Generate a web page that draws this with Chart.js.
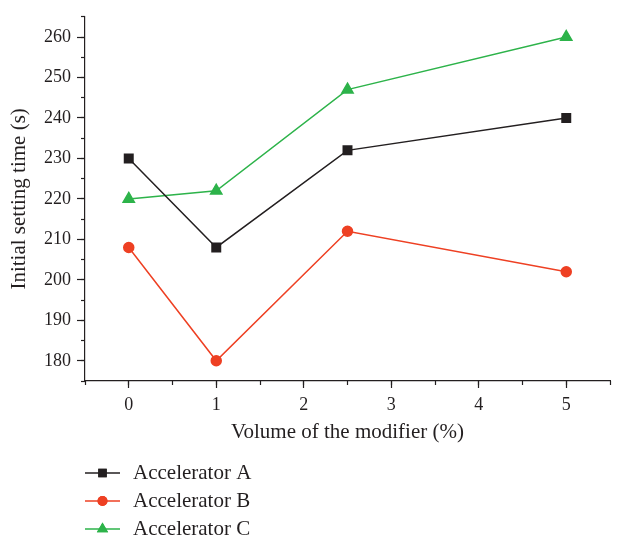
<!DOCTYPE html>
<html>
<head>
<meta charset="utf-8">
<script src="https://cdn.jsdelivr.net/npm/chart.js@4/dist/chart.umd.min.js"></script>
<style>
  html, body { margin: 0; padding: 0; background: #fff; }
  #wrap { width: 618px; height: 539px; }
</style>
</head>
<body>
<div id="wrap"><canvas id="chart1"></canvas></div>
<script>
// Veriler
const modifierVolume = [0, 1, 2.5, 5];
const accelA = [230, 208, 232, 240];
const accelB = [208, 180, 212, 202];
const accelC = [220, 222, 247, 260];
const seriesNames = ['Accelerator A', 'Accelerator B', 'Accelerator C'];
const xTickValues = [0, 1, 2, 3, 4, 5];
const yTickValues = [180, 190, 200, 210, 220, 230, 240, 250, 260];

const FONT = "'Liberation Serif', 'DejaVu Serif', serif";
const INK = '#231f20';

function pts(ys) {
    return modifierVolume.map((x, i) => ({ x: x, y: ys[i] }));
}

// Alt kısımdaki dikey gösterge
const bottomLegend = {
    id: 'bottomLegend',
    afterDraw(chart) {
        const ctx = chart.ctx;
        ctx.save();
        chart.data.datasets.forEach((ds, i) => {
            const y = 473 + i * 28;
            ctx.strokeStyle = ds.borderColor;
            ctx.lineWidth = 1.5;
            ctx.beginPath();
            ctx.moveTo(85, y);
            ctx.lineTo(120, y);
            ctx.stroke();
            ctx.fillStyle = ds.backgroundColor;
            Chart.helpers.drawPoint(ctx, {
                pointStyle: ds.pointStyle, radius: ds.pointRadius, borderWidth: 0, rotation: 0
            }, 102.5, y);
            ctx.fill();
            ctx.fillStyle = INK;
            ctx.font = "21px " + FONT;
            ctx.textBaseline = 'middle';
            ctx.fillText(ds.label, 133, y);
        });
        ctx.restore();
    }
};

const ctx = document.getElementById('chart1').getContext('2d');
const myChart = new Chart(ctx, {
    type: 'line',
    data: {
        datasets: [{
            label: seriesNames[0],
            data: pts(accelA),
            borderColor: INK,
            backgroundColor: INK,
            pointStyle: 'rect',
            pointRadius: 6,
            borderWidth: 1.5
        }, {
            label: seriesNames[1],
            data: pts(accelB),
            borderColor: '#ee4023',
            backgroundColor: '#ee4023',
            pointStyle: 'circle',
            pointRadius: 5,
            borderWidth: 1.5
        }, {
            label: seriesNames[2],
            data: pts(accelC),
            borderColor: '#2db34a',
            backgroundColor: '#2db34a',
            pointStyle: 'triangle',
            pointRadius: 6.5,
            borderWidth: 1.5
        }]
    },
    options: {
        responsive: true,
        maintainAspectRatio: false,
        animation: false,
        layout: { padding: { top: 10, right: 3, left: 0, bottom: 93 } },
        plugins: { legend: { display: false }, tooltip: { enabled: false } },
        elements: { point: { borderWidth: 0 }, line: { tension: 0 } },
        scales: {
            xMinor: {
                type: 'linear', position: 'bottom', weight: 0,
                min: -0.5, max: 5.5,
                ticks: { display: false, stepSize: 0.5 },
                grid: { drawOnChartArea: false, tickLength: 4, color: INK, tickWidth: 1.2 },
                border: { display: false },
                afterFit: s => { s.height = 0; }
            },
            x: {
                type: 'linear', position: 'bottom', weight: 1,
                min: -0.5, max: 5.5,
                afterBuildTicks: s => { s.ticks = xTickValues.map(v => ({ value: v })); },
                ticks: {
                    padding: 6, color: INK,
                    font: { family: FONT, size: 18 }
                },
                grid: { drawOnChartArea: false, tickLength: 7, tickWidth: 1.2, tickColor: INK },
                border: { display: true, color: INK, width: 1.2 },
                title: {
                    display: true, text: 'Volume of the modifier (%)', color: INK,
                    font: { family: FONT, size: 21 }, padding: { top: 2, bottom: 1 }
                },
                afterFit: s => { s.height = 65; }
            },
            yMinor: {
                type: 'linear', position: 'left', weight: 0,
                min: 175, max: 265,
                ticks: { display: false, stepSize: 5 },
                grid: { drawOnChartArea: false, tickLength: 4, color: INK, tickWidth: 1.2 },
                border: { display: false },
                afterFit: s => { s.width = 0; }
            },
            y: {
                type: 'linear', position: 'left', weight: 1,
                min: 175, max: 265,
                afterBuildTicks: s => { s.ticks = yTickValues.map(v => ({ value: v })); },
                ticks: {
                    padding: 6, color: INK,
                    font: { family: FONT, size: 18 }
                },
                grid: { drawOnChartArea: false, tickLength: 8, tickWidth: 1.2, tickColor: INK },
                border: { display: true, color: INK, width: 1.2 },
                title: {
                    display: true, text: 'Initial setting time (s)', color: INK,
                    font: { family: FONT, size: 21 }, padding: { top: 7, bottom: 2 }
                },
                afterFit: s => { s.width = 85; }
            }
        }
    },
    plugins: [bottomLegend]
});
</script>
</body>
</html>
